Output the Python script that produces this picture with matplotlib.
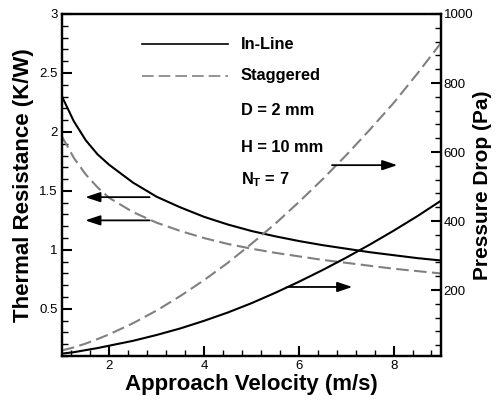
import matplotlib

matplotlib.use("Agg")
import matplotlib.pyplot as plt
from matplotlib.ticker import MultipleLocator

plt.rcParams["font.family"] = ["Liberation Sans", "DejaVu Sans"]

velocity = [1.0, 1.25, 1.5, 1.75, 2.0, 2.5, 3.0, 3.5, 4.0, 4.5, 5.0, 5.5, 6.0, 6.5, 7.0, 7.5, 8.0, 8.5, 9.0]

r_inline = [2.30, 2.09, 1.93, 1.81, 1.72, 1.57, 1.45, 1.36, 1.28, 1.215, 1.16, 1.115, 1.075, 1.04, 1.01, 0.98, 0.955, 0.93, 0.91]
r_staggered = [1.96, 1.78, 1.64, 1.53, 1.44, 1.32, 1.23, 1.16, 1.10, 1.05, 1.01, 0.975, 0.945, 0.915, 0.89, 0.865, 0.84, 0.82, 0.80]

dp_inline = [16, 20, 26, 32, 39, 53, 70, 89, 111, 135, 162, 192, 224, 258, 294, 332, 372, 414, 459]
dp_staggered = [25, 34, 45, 58, 72, 104, 141, 183, 229, 279, 334, 392, 455, 521, 591, 665, 742, 827, 916]

legend_labels = ["In-Line", "Staggered"]
notes = ["D = 2 mm", "H = 10 mm", r"N$_\mathregular{T}$ = 7"]

gray = "#808080"
dash = (6, 2.6)

fig = plt.figure(figsize=(4.96, 4.0), dpi=100)
ax = fig.add_axes([0.125, 0.11, 0.764, 0.855])
ax2 = ax.twinx()

ax.plot(velocity, r_inline, color="black", lw=1.5)
ax.plot(velocity, r_staggered, color=gray, lw=1.5, dashes=dash)
ax2.plot(velocity, dp_inline, color="black", lw=1.5)
ax2.plot(velocity, dp_staggered, color=gray, lw=1.5, dashes=dash)

ax.set_xlim(1, 9)
ax.set_ylim(0.1, 3)
ax2.set_ylim(9, 1000)

ax.xaxis.set_major_locator(MultipleLocator(2))
ax.xaxis.set_minor_locator(MultipleLocator(0.4))
ax.yaxis.set_major_locator(MultipleLocator(0.5))
ax.yaxis.set_minor_locator(MultipleLocator(0.1))
ax2.yaxis.set_major_locator(MultipleLocator(200))
ax2.yaxis.set_minor_locator(MultipleLocator(40))

for a in (ax, ax2):
    a.tick_params(which="major", direction="in", length=7, width=1.5, labelsize=9.5, pad=3)
    a.tick_params(which="minor", direction="in", length=4, width=1)
    for s in a.spines.values():
        s.set_linewidth(1.6)
ax.tick_params(axis="y", which="both", right=False)
ax.tick_params(axis="x", which="both", top=False)
ax2.tick_params(axis="y", pad=2)

ax.set_yticks([0.5, 1, 1.5, 2, 2.5, 3])
ax.set_yticklabels(["0.5", "1", "1.5", "2", "2.5", "3"])
ax2.set_yticks([200, 400, 600, 800, 1000])

ax.set_xlabel("Approach Velocity (m/s)", fontsize=16, fontweight="bold", labelpad=1)
ax.set_ylabel("Thermal Resistance (K/W)", fontsize=16, fontweight="bold", labelpad=4)
ax2.set_ylabel("Pressure Drop (Pa)", fontsize=15, fontweight="bold", labelpad=0)

# legend drawn by hand, like the original
ax.plot([0.211, 0.438], [0.912, 0.912], transform=ax.transAxes, color="black", lw=1.2)
ax.plot([0.211, 0.438], [0.819, 0.819], transform=ax.transAxes, color=gray, lw=1.2, dashes=(7, 3))
ax.text(0.472, 0.912, legend_labels[0], transform=ax.transAxes, fontsize=11.8, fontweight="bold", va="center")
ax.text(0.472, 0.819, legend_labels[1], transform=ax.transAxes, fontsize=11.8, fontweight="bold", va="center")
for note, yy in zip(notes, [0.719, 0.611, 0.515]):
    ax.text(0.472, yy, note, transform=ax.transAxes, fontsize=11.8, fontweight="bold", va="center")

arrow = dict(arrowstyle="-|>,head_length=0.9,head_width=0.3", color="black", lw=1.3, shrinkA=0, shrinkB=0)
ax.annotate("", xy=(1.49, 1.447), xytext=(2.85, 1.447), arrowprops=arrow)
ax.annotate("", xy=(1.49, 1.25), xytext=(2.85, 1.25), arrowprops=arrow)
ax2.annotate("", xy=(8.08, 562), xytext=(6.7, 562), arrowprops=arrow)
ax2.annotate("", xy=(7.13, 209), xytext=(5.75, 209), arrowprops=arrow)

fig.savefig("out.png", dpi=100)
